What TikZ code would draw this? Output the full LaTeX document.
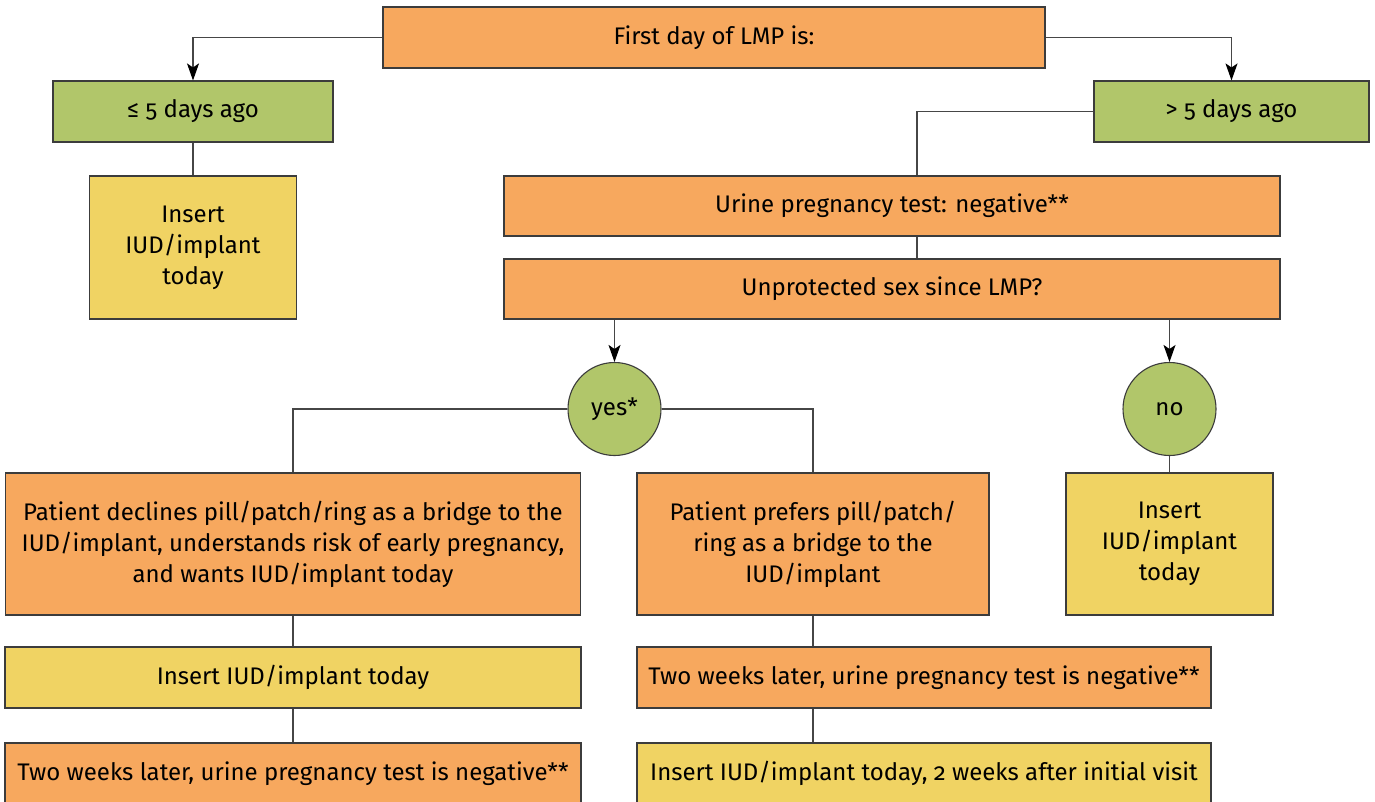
\documentclass[tikz,border=0pt]{standalone}
\usepackage{fontspec}
\setmainfont{Fira Sans}[Numbers=OldStyle,RawFeature=+onum]
\usetikzlibrary{arrows.meta}
\definecolor{orng}{RGB}{247,168,94}
\definecolor{grn}{RGB}{177,198,106}
\definecolor{ylw}{RGB}{240,211,99}
\definecolor{edge}{RGB}{60,60,60}
\definecolor{conn}{RGB}{70,70,70}
\tikzset{
  box/.style={draw=edge, line width=1.1pt, inner sep=0pt, align=center, font=\fontsize{24}{31}\selectfont, text=black},
  obox/.style={box, fill=orng},
  gbox/.style={box, fill=grn},
  ybox/.style={box, fill=ylw},
  circ/.style={box, fill=grn, circle, minimum size=93pt},
  wire/.style={draw=conn, line width=1.2pt},
  arr/.style={wire, -{Stealth[length=17pt,width=12pt,inset=4pt,color=black]}}
}
\begin{document}
\begin{tikzpicture}[x=1pt,y=-1pt]
\useasboundingbox (0,0) rectangle (1375,802);
\fill[white] (0,0) rectangle (1375,802);
\begin{scope}
\clip (0,0) rectangle (1375,802);
\node[obox, minimum width=662pt, minimum height=61pt] (top) at (714,37.5) {First day of LMP is:};
\node[gbox, minimum width=280pt, minimum height=61pt] (le) at (193,111.5) {≤ 5 days ago};
\node[gbox, minimum width=275pt, minimum height=61pt] (gt) at (1231.5,111.5) {> 5 days ago};
\node[ybox, minimum width=207pt, minimum height=143pt] (ins1) at (193,247.5) {Insert\\IUD/implant\\today};
\node[obox, minimum width=776pt, minimum height=60pt] (urine) at (892,206) {Urine pregnancy test: negative**};
\node[obox, minimum width=776pt, minimum height=60pt] (unp) at (892,289) {Unprotected sex since LMP?};
\node[circ] (yes) at (614.5,409) {yes*};
\node[circ] (no) at (1169.5,409) {no};
\node[obox, minimum width=575pt, minimum height=142pt] (decl) at (293,544) {Patient declines pill/patch/ring as a bridge to the\\IUD/implant, understands risk of early pregnancy,\\and wants IUD/implant today};
\node[obox, minimum width=352pt, minimum height=142pt] (pref) at (813,544) {Patient prefers pill/patch/\\ring as a bridge to the\\IUD/implant};
\node[ybox, minimum width=207pt, minimum height=142pt] (ins2) at (1169.5,544) {Insert\\IUD/implant\\today};
\node[ybox, minimum width=576pt, minimum height=61pt] (ins3) at (293,677.5) {Insert IUD/implant today};
\node[obox, minimum width=576pt, minimum height=61pt] (two1) at (293,773.5) {Two weeks later, urine pregnancy test is negative**};
\node[obox, minimum width=574pt, minimum height=61pt] (two2) at (924,677.5) {Two weeks later, urine pregnancy test is negative**};
\node[ybox, minimum width=574pt, minimum height=61pt] (ins4) at (924,773.5) {Insert IUD/implant today, 2 weeks after initial visit};
\end{scope}
\coordinate (ux) at (917,0);
\draw[arr] (top.west) -| (le.north);
\draw[arr] (top.east) -| (gt.north);
\draw[wire] (le.south) -- (ins1.north);
\draw[wire] (gt.west) -| (urine.north -| ux);
\draw[wire] (urine.south -| ux) -- (unp.north -| ux);
\draw[arr] (unp.south -| yes.north) -- (yes.north);
\draw[arr] (unp.south -| no.north) -- (no.north);
\draw[wire] (yes.west) -| (decl.north);
\draw[wire] (yes.east) -| (pref.north);
\draw[wire] (no.south) -- (ins2.north);
\draw[wire] (decl.south) -- (ins3.north);
\draw[wire] (ins3.south) -- (two1.north);
\draw[wire] (pref.south) -- (two2.north -| pref.south);
\draw[wire] (two2.south -| pref.south) -- (ins4.north -| pref.south);
\end{tikzpicture}
\end{document}
